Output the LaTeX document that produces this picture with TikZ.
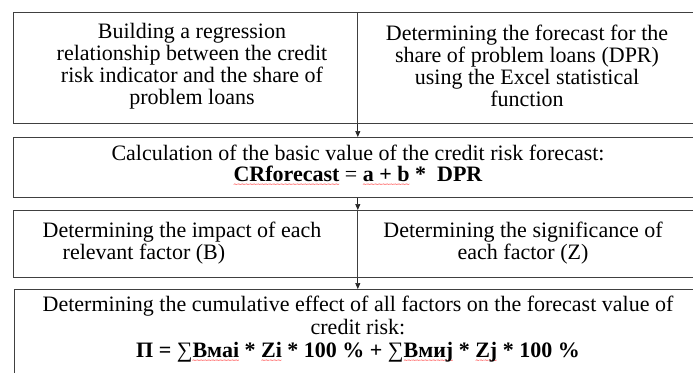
\documentclass[tikz,border=0pt]{standalone}
\usepackage{fontspec}
\setmainfont{Liberation Serif}
\newfontfamily\seriffont{Liberation Serif}
\newfontfamily\wavefont{DejaVu Sans}
\usetikzlibrary{arrows.meta}
\newcommand\redwave[1]{\setbox0\hbox{#1}\rlap{\raisebox{-4.5pt}{\hbox to \wd0{\xleaders\hbox{\wavefont\mdseries\fontsize{6}{6}\selectfont\textcolor{red}{\kern-0.6pt∼\kern-0.6pt}}\hfil}}}\box0\relax}
\begin{document}
\begin{tikzpicture}[x=1pt,y=-1pt,
  box/.style={draw=black!75, line width=0.8pt, inner sep=0, anchor=north west},
  txt/.style={font=\seriffont\fontsize{22}{22}\selectfont, align=center, inner sep=0},
  arr/.style={-{Triangle[length=6pt,width=5pt]}, draw=black!85, line width=0.7pt}]
\useasboundingbox (0,0) rectangle (693,372);
\clip (0,0) rectangle (693,372);
% boxes
\node[box, minimum width=344, minimum height=111] (b1) at (13,12) {};
\node[box, minimum width=346, minimum height=111] (b2) at (357,12) {};
\node[box, minimum width=690, minimum height=60] (b3) at (13,137) {};
\node[box, minimum width=344, minimum height=67] (b4) at (13,210) {};
\node[box, minimum width=346, minimum height=67] (b5) at (357,210) {};
\node[box, minimum width=689, minimum height=120] (b6) at (14,289) {};
% texts
\node[txt] (t1) at (192,66) {Building a regression\\relationship between the credit\\risk indicator and the share of\\problem loans};
\node[txt] (t2) at (527,66) {Determining the forecast for the\\share of problem loans (DPR)\\using the Excel statistical\\function};
\node[txt, font=\seriffont\fontsize{22}{21}\selectfont] (t3) at (358,166) {Calculation of the basic value of the credit risk forecast:\\{\bfseries\redwave{CRforecast} {\mdseries=} \redwave{a + b} *\ \ DPR}};
\node[txt, align=left] (t4) at (182,243) {Determining the impact of each\\\hspace*{20pt}relevant factor (B)};
\node[txt] (t5) at (523,243) {Determining the significance of\\each factor (Z)};
\node[txt, anchor=north, font=\seriffont\fontsize{22}{23}\selectfont] (t6) at (358,296) {Determining the cumulative effect of all factors on the forecast value of\\credit risk:\\{\bfseries П = {\mdseries∑}\redwave{Вмаі} * \redwave{Zі} * 100 \% + {\mdseries∑}\redwave{Вмиj} * \redwave{Zj} * 100 \%}};
% arrows
\draw[arr] (b1.south east) -- (b1.south east |- b3.north);
\draw[arr] (b1.south east |- b3.south) -- (b4.north east);
\draw[arr] (b4.south east) -- (b4.south east |- b6.north);
\end{tikzpicture}
\end{document}
